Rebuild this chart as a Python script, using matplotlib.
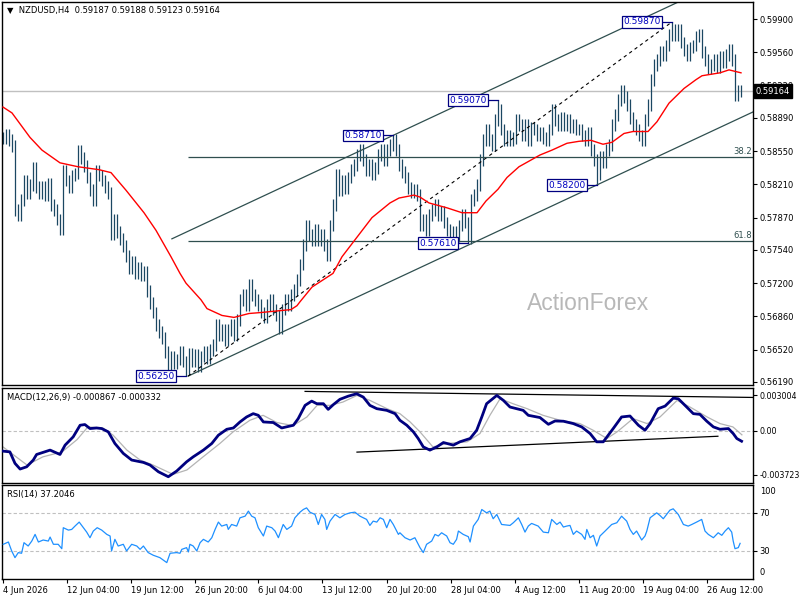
import matplotlib.pyplot as plt
import matplotlib.transforms as mtransforms
import numpy as np

# H4 closes in pips (x 0.0001), one per bar left to right
CLOSE_PIPS = [
    5868, 5872, 5866, 5860, 5795, 5790, 5805, 5825, 5812, 5820,
    5838, 5818, 5812, 5818, 5810, 5822, 5800, 5795, 5785, 5775,
    5835, 5825, 5818, 5830, 5832, 5855, 5848, 5840, 5828, 5815,
    5805, 5835, 5830, 5825, 5818, 5812, 5770, 5785, 5772, 5765,
    5758, 5748, 5735, 5742, 5730, 5736, 5728, 5732, 5712, 5700,
    5690, 5677, 5670, 5664, 5650, 5637, 5645, 5638, 5642, 5650,
    5640, 5632, 5648, 5640, 5647, 5635, 5645, 5650, 5643, 5652,
    5657, 5677, 5667, 5672, 5662, 5672, 5677, 5667, 5682, 5703,
    5708, 5698, 5718, 5708, 5703, 5698, 5690, 5685, 5698, 5703,
    5693, 5687, 5674, 5693, 5703, 5698, 5708, 5713, 5723, 5739,
    5759, 5779, 5769, 5764, 5774, 5764, 5769, 5759, 5749, 5779,
    5800, 5831, 5815, 5825, 5817, 5828, 5836, 5841, 5851, 5856,
    5846, 5836, 5841, 5831, 5838, 5851, 5856, 5846, 5856, 5861,
    5866, 5856, 5841, 5834, 5828, 5817, 5813, 5815, 5810, 5779,
    5785, 5774, 5790, 5795, 5800, 5790, 5793, 5782, 5774, 5769,
    5772, 5768, 5779, 5790, 5782, 5766, 5805, 5810, 5820, 5846,
    5866, 5877, 5866, 5861, 5887, 5897, 5877, 5866, 5871, 5866,
    5868, 5887, 5882, 5871, 5882, 5866, 5879, 5877, 5871, 5874,
    5868, 5866, 5877, 5897, 5887, 5882, 5889, 5882, 5887, 5879,
    5882, 5877, 5877, 5871, 5866, 5874, 5856, 5846, 5831, 5849,
    5844, 5856, 5861, 5882, 5892, 5907, 5917, 5910, 5902, 5889,
    5882, 5877, 5871, 5866, 5887, 5902, 5928, 5943, 5948, 5956,
    5953, 5963, 5974, 5979, 5974, 5979, 5966, 5958, 5953, 5961,
    5963, 5972, 5974, 5956, 5948, 5940, 5943, 5948, 5941, 5951,
    5946, 5953, 5958, 5948, 5912, 5917, 5916,
]

# red moving average, read at some bars
MA_BARS = [0, 3, 9, 13, 19, 25, 32, 36, 41, 47, 51, 56, 59, 61, 66, 68, 73, 77, 82, 86, 96,
           98, 99, 103, 110, 113, 118, 123, 129, 132, 137, 139, 142, 148, 153, 158, 161, 165,
           168, 172, 179, 183, 188, 192, 196, 200, 203, 207, 210, 215, 218, 222, 227, 231,
           233, 239, 242, 246]
MA_PIPS = [5900, 5894, 5869, 5856, 5843, 5839, 5836, 5833, 5815, 5792, 5774, 5747, 5730,
           5720, 5703, 5694, 5687, 5685, 5689, 5690, 5693, 5697, 5701, 5716, 5730, 5747,
           5767, 5787, 5802, 5807, 5810, 5808, 5802, 5797, 5792, 5792, 5804, 5816, 5828,
           5839, 5851, 5856, 5863, 5865, 5866, 5862, 5864, 5873, 5875, 5875, 5885, 5904,
           5919, 5928, 5932, 5935, 5938, 5935]

SWING_BARS = [61, 130, 155, 165, 198, 223]
SWING_PRICES = [0.56250, 0.58710, 0.57610, 0.59070, 0.58200, 0.59870]

CHANNEL_BARS = [61.7, 250.0]
CHANNEL_LOWER = [0.56250, 0.58950]
CHANNEL_UPPER_START = 56.3

FIB_LOW = 0.56250
FIB_HIGH = 0.59870
FIB_LEVELS = [38.2, 61.8]
LAST_PRICE = 0.59164

PRICE_TICKS = [0.59900, 0.59560, 0.59220, 0.58890, 0.58550, 0.58210,
               0.57870, 0.57540, 0.57200, 0.56860, 0.56520, 0.56190]

# MACD main / signal, in units of 1e-4
MACD_BARS = [0.1, 2.3, 4.0, 5.7, 7.9, 10.1, 11.2, 15.7, 19.0, 20.7, 23.4, 25.7, 27.3, 29.0,
             31.2, 32.9, 35.1, 37.3, 40.1, 42.9, 46.8, 49.0, 51.8, 55.1, 57.9, 61.2, 63.4,
             66.8, 69.6, 71.8, 74.6, 76.8, 79.0, 81.2, 83.4, 85.1, 86.8, 90.1, 92.9, 96.8,
             98.4, 100.7, 102.9, 104.6, 106.8, 108.4, 110.1, 112.3, 115.1, 117.9, 120.1,
             122.3, 124.6, 127.9, 130.7, 132.3, 134.6, 136.8, 138.4, 140.1, 142.3, 144.6,
             146.8, 150.1, 152.3, 155.7, 157.9, 159.6, 161.2, 164.6, 166.8, 169.0, 171.2,
             173.4, 175.1, 179.0, 181.8, 184.0, 186.8, 190.1, 192.9, 195.7, 197.9, 200.1,
             203.4, 206.2, 209.0, 211.8, 214.0, 215.7, 218.4, 220.7, 223.4, 225.1, 227.9,
             230.1, 232.3, 234.6, 236.8, 239.0, 241.8, 243.4, 244.6, 246.2]
MACD_VALS = [-17.1, -17.7, -27.4, -32.2, -30.3, -24.6, -19.9, -16.2, -19.9, -12.0, -5.0, 4.8,
             5.4, 2.0, 2.5, 2.0, -0.8, -10.6, -19.0, -24.6, -26.6, -28.8, -34.5, -38.7, -33.9,
             -26.1, -21.9, -16.2, -10.6, -3.6, 1.4, 2.5, 7.6, 11.8, 14.6, 13.2, 7.6, 7.1, 2.5,
             4.8, 10.4, 21.6, 25.2, 23.0, 23.0, 18.2, 22.2, 26.7, 29.4, 31.4, 28.6, 21.6, 18.8,
             17.4, 14.6, 9.0, 4.8, -0.8, -6.4, -13.5, -16.2, -13.5, -9.8, -12.0, -9.2, -6.4,
             0.6, 11.8, 23.0, 30.0, 25.8, 20.2, 18.8, 17.4, 13.2, 11.3, 5.6, 8.4, 8.2, 6.2,
             3.4, -2.2, -9.2, -9.2, 2.0, 11.8, 12.6, 4.8, 0.6, 6.2, 18.8, 21.0, 27.7, 27.2,
             20.2, 14.6, 14.0, 8.2, 3.4, 1.4, 2.0, -2.2, -6.4, -8.7]
SIGNAL_BARS = [0.0, 8.0, 13.3, 19.7, 24.7, 28.3, 33.3, 36.7, 41.3, 45.7, 50.0, 56.7, 61.3,
               66.7, 72.3, 76.7, 82.3, 86.7, 91.3, 96.7, 101.3, 104.7, 109.0, 113.3, 118.0,
               122.3, 128.0, 132.3, 135.7, 139.0, 143.3, 148.0, 154.7, 159.0, 162.3, 165.7,
               170.0, 174.7, 180.0, 185.7, 192.3, 196.7, 201.3, 204.7, 210.0, 214.7, 219.0,
               224.7, 229.0, 234.7, 239.0, 243.3, 246.3]
SIGNAL_VALS = [-13.5, -28.8, -21.9, -17.7, -7.3, 3.4, 2.5, -3.6, -16.2, -24.6, -28.8, -36.7,
               -33.0, -21.9, -10.6, -0.8, 9.0, 13.2, 7.1, 4.5, 11.8, 21.6, 21.6, 24.4, 30.0,
               25.8, 18.8, 14.6, 7.6, -0.8, -13.5, -10.6, -9.2, -2.2, 13.2, 27.2, 23.0, 18.8,
               13.2, 9.0, 6.2, 0.6, -6.4, -0.8, 10.4, 6.2, 11.8, 25.8, 20.2, 11.8, 6.2, 3.4, -3.3]
MACD_UPPER_BARS = [100.7, 250.0]
MACD_UPPER_VALS = [33.4, 28.3]
MACD_LOWER_BARS = [118.0, 238.3]
MACD_LOWER_VALS = [-17.9, -4.5]
MACD_TICKS = [0.003004, 0.0, -0.003723]
MACD_TICK_LABELS = ["0.003004", "0.00", "-0.003723"]

RSI_BARS = [0.1, 1.8, 2.9, 4.0, 5.1, 6.2, 7.0, 8.4, 9.6, 10.7, 11.8, 13.4, 15.1, 15.7, 16.8,
            18.4, 19.6, 20.1, 21.8, 22.9, 24.0, 25.4, 26.8, 27.9, 29.0, 30.1, 31.4, 32.9,
            34.6, 35.7, 36.2, 37.3, 38.4, 40.1, 41.2, 42.9, 44.6, 45.7, 46.8, 48.4, 50.1,
            52.3, 54.6, 55.7, 57.9, 59.0, 59.6, 61.2, 61.8, 62.3, 63.4, 64.6, 65.7, 66.8,
            68.4, 69.6, 70.7, 71.8, 72.9, 74.6, 75.1, 76.2, 77.9, 79.0, 80.7, 81.8, 82.9,
            84.0, 85.1, 86.8, 87.9, 89.6, 90.7, 91.8, 93.4, 94.6, 96.2, 97.3, 99.0, 100.1,
            101.2, 102.3, 104.0, 105.1, 106.2, 107.3, 107.9, 109.0, 110.7, 112.3, 114.0,
            115.7, 117.3, 119.0, 120.1, 121.2, 122.3, 123.4, 124.6, 125.7, 126.8, 127.9,
            129.0, 130.1, 131.8, 132.3, 134.0, 135.7, 137.3, 139.0, 140.1, 141.2, 142.9,
            144.0, 145.1, 146.2, 147.9, 149.0, 150.1, 151.2, 151.8, 153.4, 155.1, 155.7,
            156.8, 158.4, 159.6, 161.2, 162.3, 163.4, 164.6, 166.2, 169.0, 170.1, 171.8,
            172.9, 174.0, 175.1, 176.2, 178.4, 180.1, 181.8, 182.9, 184.6, 185.7, 186.8,
            187.9, 189.0, 190.1, 191.2, 192.9, 194.0, 194.6, 195.7, 196.8, 197.9, 199.0,
            200.7, 202.9, 204.6, 206.2, 207.9, 209.0, 210.1, 211.2, 212.9, 214.0, 214.6,
            215.7, 217.9, 219.0, 220.1, 221.2, 222.3, 223.4, 225.1, 226.8, 228.4, 229.6,
            231.2, 232.9, 234.0, 235.1, 236.8, 238.4, 239.6, 240.7, 241.8, 242.9, 243.4,
            244.0, 245.1, 245.7]
RSI_VALS = [37.0, 39.4, 30.0, 23.0, 28.3, 27.6, 38.7, 35.2, 40.4, 47.4, 39.4, 41.5, 40.4,
            44.6, 37.0, 37.0, 32.4, 54.4, 51.9, 52.6, 56.1, 60.3, 54.4, 49.8, 43.9, 50.9,
            54.4, 51.9, 47.4, 45.7, 30.0, 42.2, 35.2, 37.0, 30.0, 37.0, 35.2, 31.7, 35.2,
            28.3, 25.5, 23.0, 17.8, 27.6, 28.3, 27.6, 31.7, 33.5, 29.0, 37.0, 35.2, 30.0,
            38.7, 42.2, 39.4, 43.9, 52.6, 60.3, 56.1, 57.8, 52.6, 57.8, 56.1, 64.8, 66.5,
            71.8, 66.5, 64.8, 54.4, 45.7, 56.1, 54.4, 50.9, 43.9, 57.8, 52.6, 56.1, 64.8,
            70.7, 73.5, 75.2, 70.7, 68.3, 57.8, 68.3, 63.1, 52.6, 61.3, 68.3, 64.8, 68.3,
            70.0, 70.7, 66.5, 64.8, 63.1, 56.8, 61.3, 60.3, 64.8, 63.1, 54.4, 63.1, 57.8,
            47.4, 49.1, 43.9, 41.5, 43.9, 33.5, 28.3, 37.0, 40.4, 47.4, 45.7, 49.1, 45.7,
            38.7, 37.0, 42.2, 50.9, 47.4, 45.0, 39.4, 56.1, 63.1, 73.5, 70.0, 71.8, 63.8,
            68.3, 57.8, 56.8, 59.6, 64.8, 57.8, 49.8, 56.1, 58.9, 56.1, 49.8, 49.1, 63.1,
            57.8, 60.3, 55.1, 56.1, 56.8, 47.4, 50.9, 47.4, 42.2, 52.6, 43.9, 46.4, 35.2,
            45.7, 50.9, 57.8, 59.6, 66.5, 61.3, 52.6, 47.4, 50.9, 41.5, 45.7, 50.9, 64.8,
            70.0, 67.2, 63.8, 68.3, 72.8, 74.2, 68.3, 57.8, 56.1, 57.8, 60.3, 63.1, 50.9,
            47.4, 43.9, 49.1, 46.4, 50.9, 54.4, 49.8, 40.4, 32.4, 33.5, 38.0]
RSI_LEVELS = [70, 30]

DATE_BARS = [-0.1, 21.2, 42.6, 63.9, 85.1, 106.4, 127.9, 149.2, 170.7, 192.0, 213.4, 234.8]
DATE_LABELS = ["4 Jun 2026", "12 Jun 04:00", "19 Jun 12:00", "26 Jun 20:00", "6 Jul 04:00",
               "13 Jul 12:00", "20 Jul 20:00", "28 Jul 04:00", "4 Aug 12:00", "11 Aug 20:00",
               "19 Aug 04:00", "26 Aug 12:00"]

BAR_COLOR = "#1b4762"
LINE_COLOR = "#2f4f4f"
WICK = 0.0006

plt.rcParams["font.family"] = "DejaVu Sans"
plt.rcParams["font.size"] = 6

fig = plt.figure(figsize=(8, 6), dpi=100)


def px_axes(left, top, right, bottom):
    return fig.add_axes([left / 800, 1 - bottom / 600, (right - left) / 800, (bottom - top) / 600])


ax_p = px_axes(2.3, 2, 753, 385)
ax_m = px_axes(2.3, 387.5, 753, 483)
ax_r = px_axes(2.3, 485, 753, 579)

for ax in (ax_p, ax_m, ax_r):
    ax.set_xlim(-0.23, 250)
    ax.yaxis.tick_right()
    ax.tick_params(axis="y", direction="out", length=3, width=0.8, pad=1.5, labelsize=6)
    ax.tick_params(axis="x", bottom=False, labelbottom=False)
    for sp in ax.spines.values():
        sp.set_linewidth(1)
        sp.set_color("black")

# ---- price panel ----
closes = np.array(CLOSE_PIPS) / 10000
opens = np.r_[closes[0], closes[:-1]]
highs = np.maximum(opens, closes) + WICK
lows = np.minimum(opens, closes) - WICK
for b, p in zip(SWING_BARS, SWING_PRICES):
    if p > closes[b]:
        highs[b] = p
    else:
        lows[b] = p
bars = np.arange(len(closes))

ax_p.axhline(LAST_PRICE, color="#c0c0c0", lw=1, zorder=0.5)
ax_p.vlines(bars, lows, highs, color=BAR_COLOR, lw=0.9, zorder=2)
ax_p.plot(MA_BARS, np.array(MA_PIPS) / 10000, color="red", lw=1, zorder=3)

slope = (CHANNEL_LOWER[1] - CHANNEL_LOWER[0]) / (CHANNEL_BARS[1] - CHANNEL_BARS[0])
ax_p.plot(CHANNEL_BARS, CHANNEL_LOWER, color=LINE_COLOR, lw=0.9, zorder=2.5)
up_bars = np.array([CHANNEL_UPPER_START, CHANNEL_BARS[1]])
up_prices = SWING_PRICES[1] + slope * (up_bars - SWING_BARS[1])
ax_p.plot(up_bars, up_prices, color=LINE_COLOR, lw=0.9, zorder=2.5)
ax_p.plot([CHANNEL_BARS[0], SWING_BARS[-1]], [FIB_LOW, FIB_HIGH], color="black",
          lw=0.8, ls=(0, (3, 3)), zorder=2.5)

for lvl in FIB_LEVELS:
    price = FIB_HIGH - (FIB_HIGH - FIB_LOW) * lvl / 100
    ax_p.hlines(price, CHANNEL_BARS[0], 250, color=LINE_COLOR, lw=0.9, zorder=2.5)
    ax_p.text(249.6, price + 0.0001, f"{lvl}", ha="right", va="bottom", color=LINE_COLOR, fontsize=6)

for b, p in zip(SWING_BARS, SWING_PRICES):
    ax_p.plot([b - 3.6, b], [p, p], color="#000080", lw=0.9, zorder=4)
    ax_p.text(b - 3.9, p, f"{p:.5f}", ha="right", va="center", fontsize=6.5, color="#0000c0",
              zorder=5, bbox=dict(boxstyle="square,pad=0.15", fc="white", ec="#000080", lw=0.9))

ax_p.set_ylim(0.561592, 0.600738)
ax_p.set_yticks(PRICE_TICKS, [f"{v:.5f}" for v in PRICE_TICKS])
trans = mtransforms.blended_transform_factory(ax_p.transAxes, ax_p.transData)
ax_p.text(1.0035, LAST_PRICE, f"{LAST_PRICE:.5f}", transform=trans, ha="left", va="center",
          color="white", fontsize=6, zorder=10, clip_on=False,
          bbox=dict(boxstyle="square,pad=0.25", fc="black", ec="black"))
ax_p.text(0.006, 0.977, "\u25bc  NZDUSD,H4  0.59187 0.59188 0.59123 0.59164",
          transform=ax_p.transAxes, ha="left", va="center", fontsize=6)
ax_p.text(0.78, 0.214, "ActionForex", transform=ax_p.transAxes, ha="center", va="center",
          fontsize=16.5, family="Liberation Sans", color="#b8b8b8", zorder=1)

# ---- MACD panel ----
ax_m.axhline(0, color="#c0c0c0", lw=0.8, ls=(0, (3, 2)), zorder=1)
ax_m.plot(SIGNAL_BARS, np.array(SIGNAL_VALS) * 1e-4, color="#b4b4b4", lw=0.9, zorder=2)
ax_m.plot(MACD_BARS, np.array(MACD_VALS) * 1e-4, color="#00007f", lw=2, zorder=3)
ax_m.plot(MACD_UPPER_BARS, np.array(MACD_UPPER_VALS) * 1e-4, color="black", lw=0.9)
ax_m.plot(MACD_LOWER_BARS, np.array(MACD_LOWER_VALS) * 1e-4, color="black", lw=0.9)
ax_m.set_ylim(-0.00440, 0.00367)
ax_m.set_yticks(MACD_TICKS, MACD_TICK_LABELS)
ax_m.tick_params(axis="y", labelsize=5.7)
ax_m.text(0.006, 0.9, "MACD(12,26,9) -0.000867 -0.000332", transform=ax_m.transAxes,
          ha="left", va="center", fontsize=6)

# ---- RSI panel ----
for lvl in RSI_LEVELS:
    ax_r.axhline(lvl, color="#c0c0c0", lw=0.8, ls=(0, (3, 2)), zorder=1)
ax_r.plot(RSI_BARS, RSI_VALS, color="#1e90ff", lw=0.9, zorder=3)
ax_r.set_ylim(0.6, 99.2)
ax_r.set_yticks(RSI_LEVELS, [str(v) for v in RSI_LEVELS])
ax_r.text(1.009, 0.936, "100", transform=ax_r.transAxes, ha="left", va="center", fontsize=6)
ax_r.text(1.009, 0.074, "0", transform=ax_r.transAxes, ha="left", va="center", fontsize=6)
ax_r.text(0.006, 0.904, "RSI(14) 37.2046", transform=ax_r.transAxes,
          ha="left", va="center", fontsize=6)
ax_r.tick_params(axis="x", bottom=True, labelbottom=True, direction="out", length=3,
                 width=0.8, pad=2, labelsize=6)
ax_r.set_xticks(DATE_BARS, DATE_LABELS, ha="left")

fig.savefig("out.png", dpi=100, facecolor="white")
